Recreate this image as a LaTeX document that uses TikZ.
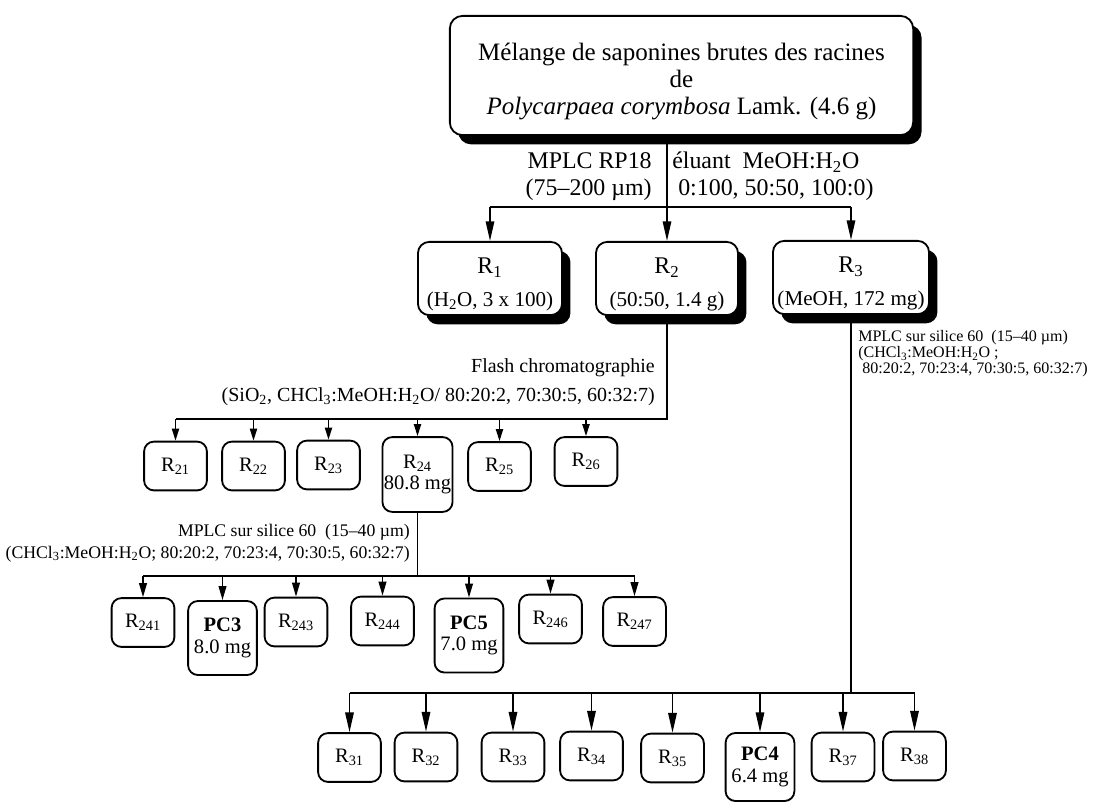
\documentclass[tikz,border=0pt]{standalone}
\usepackage{fontspec}
\setmainfont{Liberation Serif}
\usetikzlibrary{shapes,arrows.meta,positioning,calc,shadows}

\begin{document}
\begin{tikzpicture}[x=0.025cm, y=-0.025cm,
    main/.style={rectangle, draw, rounded corners=8pt, line width=1.3pt, fill=white, align=center, inner sep=1pt,
        drop shadow={shadow xshift=0.21cm, shadow yshift=-0.23cm, opacity=1, fill=black}},
    fraction/.style={rectangle, draw, rounded corners=7pt, line width=1.3pt, minimum width=1.57cm, minimum height=1.22cm,
        inner sep=1pt, align=center, font=\fontsize{14.6}{15.5}\selectfont},
    product/.style={fraction, minimum width=1.72cm, minimum height=1.85cm},
    note/.style={inner sep=0pt},
    link/.style={line width=1.2pt},
    bigarrow/.style={link, -{Triangle[length=14pt, width=6pt]}},
    midarrow/.style={link, -{Triangle[length=10pt, width=5.5pt]}},
    smallarrow/.style={link, -{Triangle[length=8.5pt, width=5pt]}}
]
\useasboundingbox (0,0) rectangle (1100,802);

% Crude extract
\node[main, rounded corners=9pt, minimum width=11.58cm, minimum height=2.98cm, font=\fontsize{17.8}{19}\selectfont] (crude) at (681.5, 75.5)
    {\rule{0pt}{21pt}Mélange de saponines brutes des racines\\de\\\textit{Polycarpaea corymbosa} Lamk. (4.6 g)};

% First fractions
\node[main, minimum width=3.6cm, minimum height=1.83cm, font=\fontsize{15}{23.5}\selectfont] (R1) at (490, 278.5)
    {{\fontsize{17}{23.5}\selectfont\rule{0pt}{20pt}R\textsubscript{1}}\\(H\textsubscript{2}O, 3 x 100)};
\node[main, minimum width=3.55cm, minimum height=1.83cm, font=\fontsize{15}{23.5}\selectfont] (R2) at (667, 278.5)
    {{\fontsize{17}{23.5}\selectfont\rule{0pt}{20pt}R\textsubscript{2}}\\(50:50, 1.4 g)};
\node[main, minimum width=3.9cm, minimum height=1.83cm, font=\fontsize{15}{23.5}\selectfont] (R3) at (851, 277.5)
    {{\fontsize{17}{23.5}\selectfont\rule{0pt}{20pt}R\textsubscript{3}}\\(MeOH, 172 mg)};

\node[note, anchor=east, align=right, font=\fontsize{17}{19.2}\selectfont] (rp18) at (652, 176.5)
    {MPLC RP18\\(75–200 µm)};
\node[note, anchor=west, align=left, font=\fontsize{17}{19.2}\selectfont] (eluant) at (672, 176.5)
    {éluant\ \ MeOH:H\textsubscript{2}O\\\hspace*{0.25em}0:100, 50:50, 100:0)};

\coordinate (bus0) at (0, 207);
\draw[link] (crude.south -| R2.north) -- (bus0 -| R2.north);
\draw[link] (bus0 -| R1.north) -- (bus0 -| R3.north);
\foreach \f in {R1,R2,R3}
    \draw[bigarrow] (bus0 -| \f.north) -- (\f.north);

% Fractions of R2
\node[fraction] (R21) at (175.5, 466) {R\textsubscript{21}};
\node[fraction] (R22) at (253.5, 466) {R\textsubscript{22}};
\node[fraction] (R23) at (328.5, 465) {R\textsubscript{23}};
\node[product, minimum height=1.87cm] (R24) at (417.5, 474.5) {R\textsubscript{24}\\80.8 mg};
\node[fraction] (R25) at (499.5, 466.5) {R\textsubscript{25}};
\node[fraction] (R26) at (586, 461.5) {R\textsubscript{26}};

\node[note, anchor=east, align=right, font=\fontsize{14.2}{20.5}\selectfont] (flash) at (655, 382)
    {Flash chromatographie\\(SiO\textsubscript{2}, CHCl\textsubscript{3}:MeOH:H\textsubscript{2}O/ 80:20:2, 70:30:5, 60:32:7)};

\coordinate (bus1) at (0, 419);
\draw[link] (R2.south) -- (bus1 -| R2.south) -- (bus1 -| R21.north);
\foreach \f in {R21,R22,R23,R24,R25,R26}
    \draw[smallarrow] (bus1 -| \f.north) -- (\f.north);

% Fractions of R24
\node[fraction] (R241) at (143, 622.5) {R\textsubscript{241}};
\node[product] (PC3) at (222.5, 638) {\textbf{PC3}\\8.0 mg};
\node[fraction] (R243) at (296, 622) {R\textsubscript{243}};
\node[fraction] (R244) at (382.5, 621) {R\textsubscript{244}};
\node[product] (PC5) at (469, 635.5) {\textbf{PC5}\\7.0 mg};
\node[fraction] (R246) at (550.5, 619) {R\textsubscript{246}};
\node[fraction] (R247) at (634.5, 621.5) {R\textsubscript{247}};

\node[note, anchor=east, align=right, font=\fontsize{12.6}{15.6}\selectfont] (silica1) at (410, 543)
    {MPLC sur silice 60\ \ (15–40 µm)\\(CHCl\textsubscript{3}:MeOH:H\textsubscript{2}O; 80:20:2, 70:23:4, 70:30:5, 60:32:7)};

\coordinate (bus2) at (0, 576);
\draw[link] (R24.south) -- (bus2 -| R24.south);
\draw[link] (bus2 -| R241.north) -- (bus2 -| R247.north);
\foreach \f in {R241,PC3,R243,R244,PC5,R246,R247}
    \draw[midarrow] (bus2 -| \f.north) -- (\f.north);

% Fractions of R3
\node[fraction] (R31) at (349.5, 757.5) {R\textsubscript{31}};
\node[fraction] (R32) at (426, 757) {R\textsubscript{32}};
\node[fraction] (R33) at (513, 757) {R\textsubscript{33}};
\node[fraction] (R34) at (591.5, 756) {R\textsubscript{34}};
\node[fraction] (R35) at (672.5, 758) {R\textsubscript{35}};
\node[product, minimum height=1.7cm] (PC4) at (760, 767) {\textbf{PC4}\\6.4 mg};
\node[fraction] (R37) at (843, 757) {R\textsubscript{37}};
\node[fraction] (R38) at (914.5, 756) {R\textsubscript{38}};

\node[note, anchor=west, align=left, font=\fontsize{11.4}{10.2}\selectfont] (silica2) at (858, 354)
    {MPLC sur silice 60\ \ (15–40 µm)\\(CHCl\textsubscript{3}:MeOH:H\textsubscript{2}O ;\\\hspace*{0.25em}80:20:2, 70:23:4, 70:30:5, 60:32:7)};

\coordinate (bus3) at (0, 693);
\draw[link] (R3.south) -- (bus3 -| R3.south);
\draw[link] (bus3 -| R31.north) -- (bus3 -| R38.north);
\foreach \f in {R31,R32,R33,R34,R35,PC4,R37,R38}
    \draw[bigarrow] (bus3 -| \f.north) -- (\f.north);

\end{tikzpicture}
\end{document}
